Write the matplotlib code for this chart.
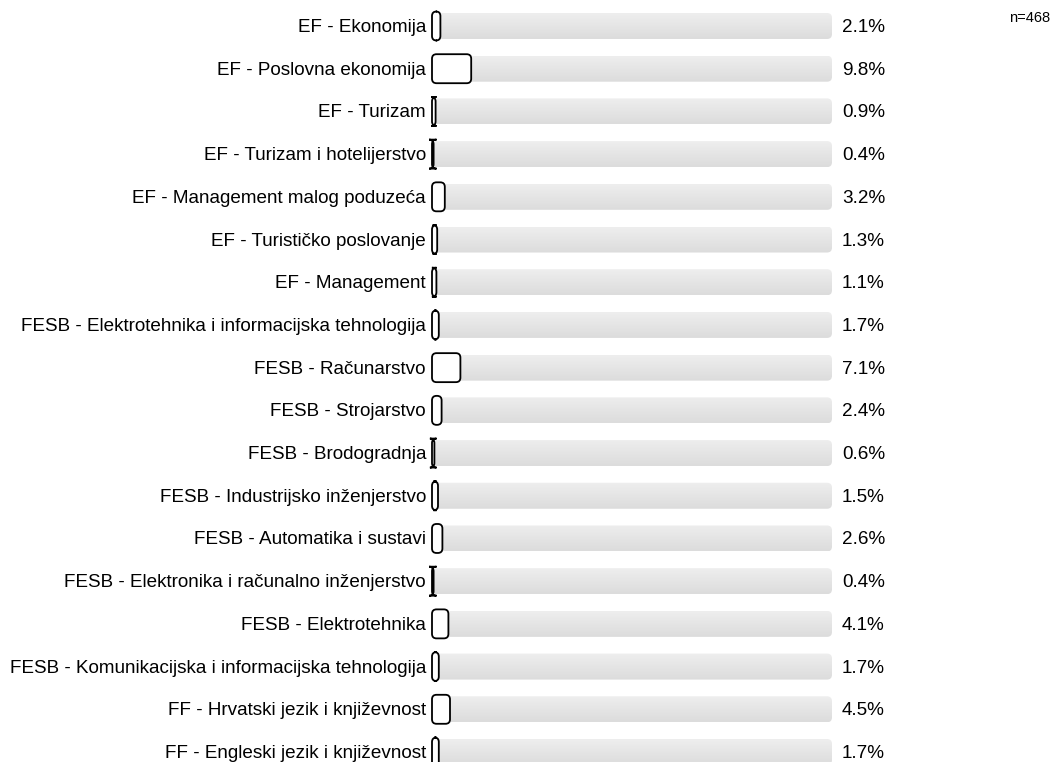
import numpy as np
import matplotlib.pyplot as plt
from matplotlib.patches import FancyBboxPatch
from matplotlib.colors import LinearSegmentedColormap

plt.rcParams['font.family'] = ['Liberation Sans', 'DejaVu Sans']

# podaci
smjerovi = [
    'EF - Ekonomija',
    'EF - Poslovna ekonomija',
    'EF - Turizam',
    'EF - Turizam i hotelijerstvo',
    'EF - Management malog poduzeća',
    'EF - Turističko poslovanje',
    'EF - Management',
    'FESB - Elektrotehnika i informacijska tehnologija',
    'FESB - Računarstvo',
    'FESB - Strojarstvo',
    'FESB - Brodogradnja',
    'FESB - Industrijsko inženjerstvo',
    'FESB - Automatika i sustavi',
    'FESB - Elektronika i računalno inženjerstvo',
    'FESB - Elektrotehnika',
    'FESB - Komunikacijska i informacijska tehnologija',
    'FF - Hrvatski jezik i književnost',
    'FF - Engleski jezik i književnost',
]
postotci = [2.1, 9.8, 0.9, 0.4, 3.2, 1.3, 1.1, 1.7, 7.1, 2.4, 0.6, 1.5, 2.6, 0.4, 4.1, 1.7, 4.5, 1.7]
n_total = 468

W, H = 1053, 762
fig = plt.figure(figsize=(W / 100, H / 100), dpi=100)
# os od 0 do 100 % ide od x=432 do x=832 piksela, redovi od y=26 do y=752
ax = fig.add_axes([432 / W, 0, 400 / W, 1])
px_x = 100 / 400           # jedinice po pikselu (x)
px_y = 17 / 726            # jedinice po pikselu (y)
aspect = px_y / px_x

grad = np.linspace(0, 1, 64).reshape(-1, 1)
siva = LinearSegmentedColormap.from_list('siva', ['#eeeeee', '#dcdcdc'])

for i, (ime, p) in enumerate(zip(smjerovi, postotci)):
    # siva pozadina s blagim gradijentom
    h = 26 * px_y
    bg = FancyBboxPatch((0, i - h / 2), 100, h,
                        boxstyle='round,pad=0,rounding_size=%f' % (5 * px_x),
                        mutation_aspect=aspect, fc='none', ec='none', zorder=1)
    ax.add_patch(bg)
    im = ax.imshow(grad, cmap=siva, extent=(0, 100, i + h / 2, i - h / 2),
                   aspect='auto', zorder=1)
    im.set_clip_path(bg)
    # bijela traka s obrubom (zaobljenje se ne smanjuje, kao u originalu)
    hv = 29 * px_y
    bar = FancyBboxPatch((0, i - hv / 2), p, hv,
                         boxstyle='round,pad=0,rounding_size=%f' % (4.5 * px_x),
                         mutation_aspect=aspect, fc='white', ec='black', lw=1.3,
                         zorder=2, clip_on=False)
    ax.add_patch(bar)
    ax.text(-6 * px_x, i + 6 * px_y, ime, ha='right', va='baseline', fontsize=13.6)
    ax.text(102.5, i + 6 * px_y, '%.1f%%' % p, ha='left', va='baseline', fontsize=13.6)

ax.set_xlim(0, 100)
ax.set_ylim(17 + 10 * px_y, -26 * px_y)
ax.axis('off')

fig.text(1050 / W, 1 - 22 / H, 'n=%d' % n_total, ha='right', va='baseline', fontsize=10.5)

fig.savefig('out.png', dpi=100)
